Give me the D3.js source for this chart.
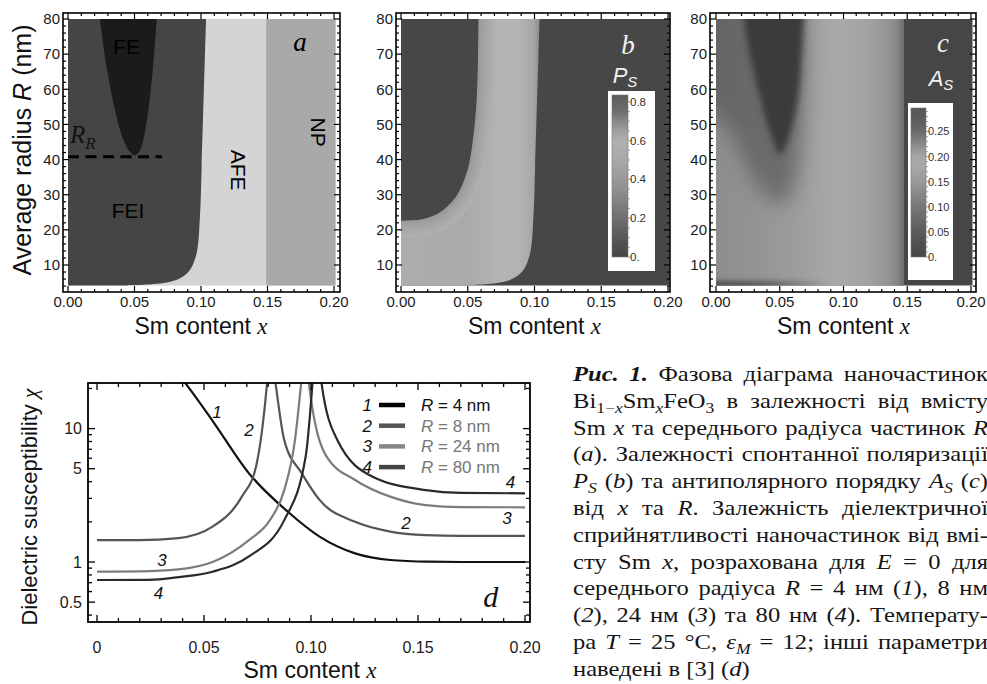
<!DOCTYPE html>
<html><head><meta charset="utf-8">
<script src="https://cdn.jsdelivr.net/npm/d3@7"></script>
<style>body{margin:0;background:#fff}svg{display:block}</style>
</head><body><svg id="fig" width="987" height="684"></svg>
<script>
// ================= DATA =================
const xTickVals = [0, 0.05, 0.10, 0.15, 0.20];
const xTickLabelsABC = ["0.00", "0.05", "0.10", "0.15", "0.20"];
const xTickLabelsD = ["0", "0.05", "0.10", "0.15", "0.20"];
const rTickVals = [10, 20, 30, 40, 50, 60, 70, 80];
const chiTickVals = [0.5, 1, 5, 10];
const chiTickLabels = ["0.5", "1", "5", "10"];
const chiMinorTicks = [0.4, 0.6, 0.7, 0.8, 0.9, 2, 3, 4, 6, 7, 8, 9, 20];

const rMin = 4.2, rMax = 80;
// panel a: phase diagram
const phaseLabels = ["FE", "FEI", "AFE", "NP"];
const phaseLabelX = [0.0441, 0.0451, 0.1278, 0.188];
const phaseLabelR = [72.1, 25.6, 37, 47.8];
const feiBoundaryX = [0.045, 0.0541, 0.0742, 0.0842, 0.0917, 0.0967, 0.0992, 0.1005, 0.1038];
const feiBoundaryR = [4.2, 4.3, 5.0, 6.2, 8.6, 13.3, 23.7, 38, 80];
const feX = [0.024, 0.029, 0.0353, 0.0416, 0.0465, 0.050, 0.0535, 0.0566, 0.0604, 0.064, 0.0667];
const feR = [80, 66.4, 54.1, 45.6, 42.2, 41.2, 42.2, 45.6, 54.1, 66.4, 80];
const afeNpX = 0.149;
const rrR = 40.8, rrEndX = 0.0705;

// panel b: spontaneous polarization P_S
const psInnerX = [0.058, 0.0567, 0.0529, 0.0492, 0.0417, 0.0292, 0.0167, 0];
const psInnerR = [80, 57.1, 42.9, 36.3, 29.7, 25.0, 23.1, 22.6];
const psBarMax = 0.835;
const psBarTicks = [0, 0.2, 0.4, 0.6, 0.8];
const psBarLabels = ["0.", "0.2", "0.4", "0.6", "0.8"];
const psBarStopV = [0, 0.1, 0.2, 0.3, 0.4, 0.5, 0.6, 0.65, 0.7, 0.75, 0.835];

// panel c: antipolar order A_S
const asCoreX = [0.022, 0.0285, 0.035, 0.0416, 0.0467, 0.049, 0.0532, 0.0595, 0.0648, 0.0674, 0.0687];
const asCoreR = [80, 66.4, 57, 48.4, 43.7, 41.3, 42.7, 49.4, 58.8, 71.2, 80];
const asHaloX = [0.01, 0.03, 0.045, 0.052, 0.06, 0.066, 0.069];
const asHaloR = [48, 34, 28, 27.5, 31, 42, 60];
const asEdgeX = 0.1475;
const asProfileX = [0, 0.03, 0.06, 0.085, 0.10, 0.12, 0.135, 0.142, 0.1475];
const asBarMax = 0.297;
const asBarTicks = [0, 0.05, 0.10, 0.15, 0.20, 0.25];
const asBarLabels = ["0.", "0.05", "0.10", "0.15", "0.20", "0.25"];
const asBarStopV = [0, 0.05, 0.10, 0.15, 0.18, 0.20, 0.22, 0.25, 0.27, 0.297];

// panel d: dielectric susceptibility
const seriesNames = ["R = 4 nm", "R = 8 nm", "R = 24 nm", "R = 80 nm"];
const chi1X = [0.0385, 0.0412, 0.0544, 0.071, 0.0892, 0.104, 0.1206, 0.137, 0.155, 0.17, 0.2];
const chi1Y = [25, 22, 11.2, 4.62, 2.38, 1.55, 1.16, 1.035, 1.005, 1.0, 1.0];
const chi2LX = [0, 0.02, 0.038, 0.054, 0.0677, 0.0743, 0.0784, 0.0802];
const chi2LY = [1.46, 1.46, 1.51, 1.84, 3.09, 5.18, 14.6, 30];
const chi2RX = [0.0822, 0.0834, 0.0875, 0.0958, 0.104, 0.1206, 0.137, 0.1536, 0.17, 0.2];
const chi2RY = [30, 22, 8.2, 4.6, 2.92, 2.0, 1.69, 1.59, 1.57, 1.57];
const chi3LX = [0, 0.02, 0.038, 0.054, 0.071, 0.0808, 0.0875, 0.0925, 0.0954, 0.0966];
const chi3LY = [0.846, 0.85, 0.88, 1.0, 1.46, 2.06, 3.46, 8.2, 22, 35];
const chi3RX = [0.0978, 0.099, 0.1073, 0.1206, 0.137, 0.1536, 0.17, 0.2];
const chi3RY = [35, 22, 6.16, 4.12, 3.09, 2.67, 2.58, 2.57];
const chi4LX = [0, 0.024, 0.038, 0.054, 0.071, 0.0875, 0.0975, 0.1007, 0.1016];
const chi4LY = [0.733, 0.735, 0.77, 0.846, 1.1, 2.06, 6.16, 22, 35];
const chi4RX = [0.1036, 0.1049, 0.1123, 0.1288, 0.1536, 0.17, 0.2];
const chi4RY = [35, 22, 8.2, 4.36, 3.46, 3.3, 3.27];
const curveLabelText = ["1", "2", "3", "4", "2", "3", "4"];
const curveLabelX = [0.0561, 0.071, 0.0304, 0.0287, 0.1444, 0.1916, 0.1932];
const curveLabelY = [13.4, 9.8, 1.035, 0.585, 1.96, 2.14, 4.0];

// caption
const captionLines = [
  [["Рис. 1.", "b"], [" Фазова діаграма наночастинок", ""]],
  [["Bi", ""], ["1−", "sub"], ["x", "subi"], ["Sm", ""], ["x", "subi"], ["FeO", ""], ["3", "sub"], [" в залежності від вмісту", ""]],
  [["Sm ", ""], ["x", "i"], [" та середнього радіуса частинок ", ""], ["R", "i"]],
  [["(", ""], ["a", "i"], ["). Залежності спонтанної поляризації", ""]],
  [["P", "i"], ["S", "subi"], [" (", ""], ["b", "i"], [") та антиполярного порядку ", ""], ["A", "i"], ["S", "subi"], [" (", ""], ["c", "i"], [")", ""]],
  [["від ", ""], ["x", "i"], [" та ", ""], ["R", "i"], [". Залежність діелектричної", ""]],
  [["сприйнятливості наночастинок від вмі-", ""]],
  [["сту Sm ", ""], ["x", "i"], [", розрахована для ", ""], ["E", "i"], [" = 0 для", ""]],
  [["середнього радіуса ", ""], ["R", "i"], [" = 4 нм (", ""], ["1", "i"], ["), 8 нм", ""]],
  [["(", ""], ["2", "i"], ["), 24 нм (", ""], ["3", "i"], [") та 80 нм (", ""], ["4", "i"], ["). Температу-", ""]],
  [["ра ", ""], ["T", "i"], [" = 25 °C, ", ""], ["ε", "i"], ["M", "subi"], [" = 12; інші параметри", ""]],
  [["наведені в [3] (", ""], ["d", "i"], [")", ""]]
];

// ================= STYLE =================
const SANS = "'Liberation Sans', Arial, Helvetica, sans-serif";
const SERIF = "'Liberation Serif', 'Times New Roman', serif";
const phaseColors = {FEI: "#454545", FE: "#1b1b1b", AFE: "#d4d4d4", NP: "#a9a9a9"};
const psBarStopC = ["#454545", "#575757", "#6e6e6e", "#858585", "#999999", "#a8a8a8", "#b0b0b0", "#a0a0a0", "#888888", "#6e6e6e", "#5c5c5c"];
const asBarStopC = ["#454545", "#5a5a5a", "#777777", "#999999", "#a8a8a8", "#a6a6a6", "#8f8f8f", "#6a6a6a", "#5e5e5e", "#565656"];
const asProfileC = ["#8d8d8d", "#939393", "#9c9c9c", "#a6a6a6", "#a9a9a9", "#a1a1a1", "#949494", "#868686", "#6c6c6c"];
const seriesColors = ["#111111", "#555555", "#7c7c7c", "#2a2a2a"];
const legendLineColors = ["#000000", "#555555", "#888888", "#444444"];
const legendTextColors = ["#111111", "#777777", "#777777", "#777777"];

// ================= SETUP =================
const svg = d3.select("#fig");
const defs = svg.append("defs");
const yR = d3.scaleLinear().domain([10, 80]).range([265, 19]);
const FT = 13, FB = 292;
const panelDefs = {
  a: {x0: 68, x1: 334, fl: 63, fr: 340},
  b: {x0: 401, x1: 668, fl: 396, fr: 670},
  c: {x0: 716, x1: 971, fl: 710, fr: 976}
};
const zip = (xs, ys) => xs.map((v, i) => [v, ys[i]]);

function addFilter(id, sd) {
  const f = defs.append("filter").attr("id", id).attr("x", "-50%").attr("y", "-50%").attr("width", "200%").attr("height", "200%");
  f.append("feGaussianBlur").attr("stdDeviation", sd);
}
addFilter("blurS", 2);
addFilter("blurM", 3);
addFilter("blurL", 10);

function makePanel(key) {
  const p = panelDefs[key];
  const xs = d3.scaleLinear().domain([0, 0.2]).range([p.x0, p.x1]);
  const cp = defs.append("clipPath").attr("id", "clip" + key);
  cp.append("rect").attr("x", p.x0).attr("y", yR(rMax)).attr("width", p.x1 - p.x0 + 1.5).attr("height", yR(rMin) - yR(rMax));
  const g = svg.append("g").attr("clip-path", `url(#clip${key})`);
  return {p, xs, g};
}

function frameABC(key, xs) {
  const p = panelDefs[key];
  const g = svg.append("g");
  g.append("rect").attr("x", p.fl).attr("y", FT).attr("width", p.fr - p.fl).attr("height", FB - FT)
    .attr("fill", "none").attr("stroke", "#000").attr("stroke-width", 1.6);
  const tk = (x1, y1, x2, y2, w) => g.append("line").attr("x1", x1).attr("y1", y1).attr("x2", x2).attr("y2", y2).attr("stroke", "#000").attr("stroke-width", w);
  d3.range(0, 0.2001, 0.01).forEach(v => {
    const major = xTickVals.some(t => Math.abs(t - v) < 1e-6);
    const L = major ? 6 : 3;
    tk(xs(v), FB, xs(v), FB - L, 1.2);
    tk(xs(v), FT, xs(v), FT + L, 1.2);
  });
  d3.range(4, 80.01, 2).forEach(v => {
    const major = rTickVals.includes(v);
    const L = major ? 6 : 3;
    tk(p.fl, yR(v), p.fl + L, yR(v), 1.2);
    tk(p.fr, yR(v), p.fr - L, yR(v), 1.2);
  });
  xTickVals.forEach((v, i) => {
    g.append("text").attr("x", xs(v)).attr("y", 302).attr("dy", "0.35em").attr("text-anchor", "middle")
      .attr("font-family", SANS).attr("font-size", 15).attr("fill", "#1a1a1a").text(xTickLabelsABC[i]);
  });
  rTickVals.forEach(v => {
    g.append("text").attr("x", p.fl - 3).attr("y", yR(v)).attr("dy", "0.35em").attr("text-anchor", "end")
      .attr("font-family", SANS).attr("font-size", 15).attr("fill", "#1a1a1a").text(v);
  });
  const t = g.append("text").attr("x", (xs(0) + xs(0.2)) / 2).attr("y", 326).attr("dy", "0.35em").attr("text-anchor", "middle")
    .attr("font-family", SANS).attr("font-size", 23).attr("fill", "#111");
  t.append("tspan").text("Sm content ");
  t.append("tspan").attr("font-family", SERIF).attr("font-style", "italic").text("x");
}

const curvy = (xs, ys) => d3.line().x(d => xs(d[0])).y(d => ys(d[1])).curve(d3.curveCatmullRom.alpha(0.5));

// ================= PANEL A =================
{
  const {xs, g} = makePanel("a");
  g.append("rect").attr("x", xs(-0.01)).attr("y", yR(90)).attr("width", xs(0.21) - xs(-0.01)).attr("height", yR(0) - yR(90)).attr("fill", phaseColors.AFE);
  g.append("rect").attr("x", xs(afeNpX)).attr("y", yR(90)).attr("width", xs(0.21) - xs(afeNpX)).attr("height", yR(0) - yR(90)).attr("fill", phaseColors.NP);
  const bpts = zip(feiBoundaryX, feiBoundaryR);
  const dB = curvy(xs, yR)(bpts) + `L${xs(0.1038)},${yR(90)}L${xs(-0.01)},${yR(90)}L${xs(-0.01)},${yR(0)}L${xs(0.045)},${yR(0)}Z`;
  g.append("path").attr("d", dB).attr("fill", phaseColors.FEI);
  const fpts = zip(feX, feR);
  const dF = curvy(xs, yR)(fpts) + `L${xs(0.0667)},${yR(90)}L${xs(0.024)},${yR(90)}Z`;
  g.append("path").attr("d", dF).attr("fill", phaseColors.FE);
  g.append("line").attr("x1", xs(0)).attr("x2", xs(rrEndX)).attr("y1", yR(rrR)).attr("y2", yR(rrR))
    .attr("stroke", "#000").attr("stroke-width", 3).attr("stroke-dasharray", "11,6.5");
  phaseLabels.forEach((s, i) => {
    const t = g.append("text").attr("font-family", SANS).attr("font-size", 21).attr("fill", "#000")
      .attr("text-anchor", "middle").attr("dy", "0.35em").text(s);
    if (s === "AFE" || s === "NP") t.attr("transform", `translate(${xs(phaseLabelX[i])},${yR(phaseLabelR[i])}) rotate(90)`);
    else t.attr("x", xs(phaseLabelX[i])).attr("y", yR(phaseLabelR[i]));
  });
  g.append("text").attr("x", xs(0.1744)).attr("y", yR(73.5)).attr("dy", "0.35em").attr("text-anchor", "middle")
    .attr("font-family", SERIF).attr("font-style", "italic").attr("font-size", 27).text("a");
  const rr = svg.append("text").attr("x", 70).attr("y", yR(44.7)).attr("font-family", SERIF).attr("font-style", "italic").attr("font-size", 25).attr("fill", "#111");
  rr.append("tspan").text("R");
  rr.append("tspan").attr("font-size", 17).attr("dy", 6).text("R");
  frameABC("a", xs);
  const yt = svg.append("text").attr("transform", "translate(22,150) rotate(-90)").attr("text-anchor", "middle").attr("dy", "0.35em")
    .attr("font-family", SANS).attr("font-size", 25).attr("fill", "#111");
  yt.append("tspan").text("Average radius ");
  yt.append("tspan").attr("font-style", "italic").text("R");
  yt.append("tspan").text(" (nm)");
}

// ================= COLORBAR helper =================
function colorbar(id, box, bar, vmax, stopV, stopC, ticks, labels, minorStep, fs) {
  const gr = defs.append("linearGradient").attr("id", id).attr("x1", 0).attr("y1", 1).attr("x2", 0).attr("y2", 0);
  stopV.forEach((v, i) => gr.append("stop").attr("offset", v / vmax).attr("stop-color", stopC[i]));
  const g = svg.append("g");
  g.append("rect").attr("x", box.x).attr("y", box.y).attr("width", box.w).attr("height", box.h).attr("fill", "#fff");
  const vs = d3.scaleLinear().domain([0, vmax]).range([bar.bot, bar.top]);
  g.append("rect").attr("x", bar.x).attr("y", bar.top).attr("width", bar.w).attr("height", bar.bot - bar.top)
    .attr("fill", `url(#${id})`).attr("stroke", "#777").attr("stroke-width", 0.6);
  d3.range(0, vmax + 1e-9, minorStep).forEach(v => {
    const major = ticks.some(t => Math.abs(t - v) < 1e-6);
    g.append("line").attr("x1", bar.x + bar.w).attr("x2", bar.x + bar.w + (major ? 4 : 2))
      .attr("y1", vs(v)).attr("y2", vs(v)).attr("stroke", "#888").attr("stroke-width", 0.8);
  });
  ticks.forEach((v, i) => {
    g.append("text").attr("x", bar.x + bar.w + 2).attr("y", vs(v)).attr("dy", "0.35em")
      .attr("font-family", SANS).attr("font-size", fs).attr("fill", "#333").text(labels[i]);
  });
}

// ================= PANEL B =================
{
  const {xs, g} = makePanel("b");
  const gd = defs.append("linearGradient").attr("id", "psBand").attr("gradientUnits", "userSpaceOnUse")
    .attr("x1", xs(0)).attr("x2", xs(0.2)).attr("y1", 0).attr("y2", 0);
  [[0, "#adadad"], [0.05, "#aaaaaa"], [0.075, "#b4b4b4"], [0.088, "#b3b3b3"], [0.099, "#a7a7a7"], [0.1038, "#8c8c8c"]]
    .forEach(s => gd.append("stop").attr("offset", s[0] / 0.2).attr("stop-color", s[1]));
  g.append("rect").attr("x", xs(-0.01)).attr("y", yR(90)).attr("width", xs(0.21) - xs(-0.01)).attr("height", yR(0) - yR(90)).attr("fill", "#474747");
  const bpts = zip(feiBoundaryX, feiBoundaryR);
  const dB = curvy(xs, yR)(bpts) + `L${xs(0.1038)},${yR(90)}L${xs(-0.01)},${yR(90)}L${xs(-0.01)},${yR(0)}L${xs(0.045)},${yR(0)}Z`;
  g.append("path").attr("d", dB).attr("fill", "url(#psBand)");
  const ipts = [[0.058, 90]].concat(zip(psInnerX, psInnerR)).concat([[-0.02, 22.6]]);
  const dI = curvy(xs, yR)(ipts) + `L${xs(-0.02)},${yR(90)}Z`;
  [[34, "#afafaf"], [26, "#aaaaaa"], [18, "#a5a5a5"], [11, "#a0a0a0"], [5, "#9a9a9a"]].forEach(s => {
    g.append("path").attr("d", dI).attr("fill", "none").attr("stroke", s[1]).attr("stroke-width", s[0]).attr("stroke-linejoin", "round");
  });
  g.append("path").attr("d", dI).attr("fill", "#474747");
  g.append("text").attr("x", xs(0.17)).attr("y", yR(72.6)).attr("dy", "0.35em").attr("text-anchor", "middle")
    .attr("font-family", SERIF).attr("font-style", "italic").attr("font-size", 27).attr("fill", "#f2f2f2").text("b");
  const ps = g.append("text").attr("x", 625).attr("y", yR(64.1)).attr("dy", "0.35em").attr("text-anchor", "middle")
    .attr("font-family", SANS).attr("font-style", "italic").attr("font-size", 22).attr("fill", "#f2f2f2");
  ps.append("tspan").text("P");
  ps.append("tspan").attr("font-size", 15).attr("dy", 4).text("S");
  frameABC("b", xs);
  colorbar("psBar", {x: 608, y: 91, w: 47, h: 180}, {x: 612, w: 16, top: 95, bot: 257}, psBarMax, psBarStopV, psBarStopC, psBarTicks, psBarLabels, 0.05, 11.5);
}

// ================= PANEL C =================
{
  const {xs, g} = makePanel("c");
  const gd = defs.append("linearGradient").attr("id", "asProf").attr("gradientUnits", "userSpaceOnUse")
    .attr("x1", xs(0)).attr("x2", xs(asEdgeX)).attr("y1", 0).attr("y2", 0);
  asProfileX.forEach((v, i) => gd.append("stop").attr("offset", v / asEdgeX).attr("stop-color", asProfileC[i]));
  g.append("rect").attr("x", xs(-0.01)).attr("y", yR(90)).attr("width", xs(0.21) - xs(-0.01)).attr("height", yR(0) - yR(90)).attr("fill", "#464646");
  g.append("rect").attr("x", xs(-0.01)).attr("y", yR(90)).attr("width", xs(asEdgeX) - xs(-0.01)).attr("height", yR(0) - yR(90)).attr("fill", "url(#asProf)");
  const hpts = [[-0.03, 95], [-0.02, 60]].concat(zip(asHaloX, asHaloR)).concat([[0.0695, 95]]);
  g.append("path").attr("d", curvy(xs, yR)(hpts) + "Z").attr("fill", "#474747").attr("opacity", 0.55).attr("filter", "url(#blurL)");
  const cpts = [[0.0215, 95]].concat(zip(asCoreX, asCoreR)).concat([[0.069, 95]]);
  g.append("path").attr("d", curvy(xs, yR)(cpts) + "Z").attr("fill", "#3b3b3b").attr("filter", "url(#blurM)");
  const sg = defs.append("linearGradient").attr("id", "asStrip").attr("gradientUnits", "userSpaceOnUse")
    .attr("x1", xs(0)).attr("x2", xs(0.09)).attr("y1", 0).attr("y2", 0);
  [[0, 0.85], [0.4, 0.7], [0.75, 0.3], [1, 0]].forEach(s => sg.append("stop").attr("offset", s[0]).attr("stop-color", "#4a4a4a").attr("stop-opacity", s[1]));
  g.append("rect").attr("x", xs(-0.01)).attr("y", yR(5.6)).attr("width", xs(0.09) - xs(-0.01)).attr("height", yR(2) - yR(5.6))
    .attr("fill", "url(#asStrip)").attr("filter", "url(#blurS)");
  g.append("text").attr("x", xs(0.178)).attr("y", yR(73.2)).attr("dy", "0.35em").attr("text-anchor", "middle")
    .attr("font-family", SERIF).attr("font-style", "italic").attr("font-size", 27).attr("fill", "#f2f2f2").text("c");
  const as = g.append("text").attr("x", xs(0.1765)).attr("y", yR(63.2)).attr("dy", "0.35em").attr("text-anchor", "middle")
    .attr("font-family", SANS).attr("font-style", "italic").attr("font-size", 22).attr("fill", "#f2f2f2");
  as.append("tspan").text("A");
  as.append("tspan").attr("font-size", 15).attr("dy", 4).text("S");
  frameABC("c", xs);
  colorbar("asBar", {x: 908, y: 103, w: 45, h: 177}, {x: 911, w: 15, top: 108, bot: 257}, asBarMax, asBarStopV, asBarStopC, asBarTicks, asBarLabels, 0.01, 11);
}

// ================= PANEL D =================
{
  const L = 88, R = 530, T = 383, B = 622;
  const xD = d3.scaleLinear().domain([0, 0.2]).range([97, 525]);
  const yD = d3.scaleLog().domain([0.355, 21.97]).range([B, T]);
  defs.append("clipPath").attr("id", "clipd").append("rect").attr("x", L).attr("y", T).attr("width", R - L).attr("height", B - T);
  const g = svg.append("g").attr("clip-path", "url(#clipd)");
  const line = d3.line().x(d => xD(d[0])).y(d => yD(d[1])).curve(d3.curveMonotoneX);
  const series = [
    [zip(chi1X, chi1Y)],
    [zip(chi2LX, chi2LY), zip(chi2RX, chi2RY)],
    [zip(chi3LX, chi3LY), zip(chi3RX, chi3RY)],
    [zip(chi4LX, chi4LY), zip(chi4RX, chi4RY)]
  ];
  series.forEach((branches, i) => branches.forEach(b => {
    g.append("path").attr("d", line(b)).attr("fill", "none").attr("stroke", seriesColors[i]).attr("stroke-width", 2.2);
  }));
  const fg = svg.append("g");
  fg.append("rect").attr("x", L).attr("y", T).attr("width", R - L).attr("height", B - T).attr("fill", "none").attr("stroke", "#000").attr("stroke-width", 1.8);
  const tk = (x1, y1, x2, y2) => fg.append("line").attr("x1", x1).attr("y1", y1).attr("x2", x2).attr("y2", y2).attr("stroke", "#000").attr("stroke-width", 1.3);
  d3.range(0, 0.2001, 0.01).forEach(v => {
    const major = xTickVals.some(t => Math.abs(t - v) < 1e-6);
    const len = major ? 7 : 4;
    tk(xD(v), B, xD(v), B - len);
    tk(xD(v), T, xD(v), T + len);
  });
  chiTickVals.concat(chiMinorTicks).forEach(v => {
    const len = chiTickVals.includes(v) ? 7 : 4;
    tk(L, yD(v), L + len, yD(v));
    tk(R, yD(v), R - len, yD(v));
  });
  xTickVals.forEach((v, i) => fg.append("text").attr("x", xD(v)).attr("y", 647).attr("dy", "0.35em").attr("text-anchor", "middle")
    .attr("font-family", SANS).attr("font-size", 16).attr("fill", "#1a1a1a").text(xTickLabelsD[i]));
  chiTickVals.forEach((v, i) => fg.append("text").attr("x", L - 6).attr("y", yD(v)).attr("dy", "0.35em").attr("text-anchor", "end")
    .attr("font-family", SANS).attr("font-size", 16).attr("fill", "#1a1a1a").text(chiTickLabels[i]));
  const xt = fg.append("text").attr("x", 310).attr("y", 670).attr("dy", "0.35em").attr("text-anchor", "middle")
    .attr("font-family", SANS).attr("font-size", 23).attr("fill", "#111");
  xt.append("tspan").text("Sm content ");
  xt.append("tspan").attr("font-family", SERIF).attr("font-style", "italic").text("x");
  const yt = fg.append("text").attr("transform", "translate(29,507) rotate(-90)").attr("text-anchor", "middle").attr("dy", "0.35em")
    .attr("font-family", SANS).attr("font-size", 22).attr("fill", "#111");
  yt.append("tspan").text("Dielectric susceptibility ");
  yt.append("tspan").attr("font-family", SERIF).attr("font-style", "italic").text("χ");
  curveLabelText.forEach((s, i) => fg.append("text").attr("x", xD(curveLabelX[i])).attr("y", yD(curveLabelY[i])).attr("dy", "0.35em")
    .attr("text-anchor", "middle").attr("font-family", SANS).attr("font-style", "italic").attr("font-size", 17).attr("fill", "#111").text(s));
  fg.append("text").attr("x", xD(0.184)).attr("y", yD(0.547)).attr("dy", "0.35em").attr("text-anchor", "middle")
    .attr("font-family", SERIF).attr("font-style", "italic").attr("font-size", 30).attr("fill", "#111").text("d");
  seriesNames.forEach((s, i) => {
    const y = 405 + i * 20.7;
    fg.append("text").attr("x", 372).attr("y", y).attr("dy", "0.35em").attr("text-anchor", "end")
      .attr("font-family", SANS).attr("font-style", "italic").attr("font-size", 17).attr("fill", "#111").text(String(i + 1));
    fg.append("line").attr("x1", 379).attr("x2", 405).attr("y1", y).attr("y2", y).attr("stroke", legendLineColors[i]).attr("stroke-width", 4.5);
    const t = fg.append("text").attr("x", 421).attr("y", y).attr("dy", "0.35em").attr("font-family", SANS).attr("font-size", 17).attr("fill", legendTextColors[i]);
    t.append("tspan").attr("font-style", "italic").text("R");
    t.append("tspan").text(s.slice(1));
  });
}

// ================= CAPTION =================
{
  const capX0 = 573, capX1 = 988, capY0 = 381, capDY = 26.8, capGX = 1.17;
  captionLines.forEach((segs, i) => {
    const y = capY0 + i * capDY;
    const t = svg.append("text").attr("transform", `translate(${capX0},${y}) scale(${capGX},1)`)
      .attr("font-family", SERIF).attr("font-size", 21).attr("fill", "#151515").style("white-space", "pre");
    let shift = 0;
    segs.forEach(([s, st]) => {
      const ts = t.append("tspan").text(s);
      const isSub = st === "sub" || st === "subi";
      const target = isSub ? 5 : 0;
      if (target !== shift) { ts.attr("dy", target - shift); shift = target; }
      if (st === "i" || st === "subi") ts.attr("font-style", "italic");
      if (st === "b") ts.attr("font-style", "italic").attr("font-weight", "bold");
      if (isSub) ts.attr("font-size", 15);
    });
    if (i < captionLines.length - 1) {
      const nat = t.node().getComputedTextLength();
      const nSp = segs.map(s => s[0]).join("").split(" ").length - 1;
      if (nSp > 0) t.attr("word-spacing", ((capX1 - capX0) / capGX - nat) / nSp);
    }
  });
}
</script></body></html>
